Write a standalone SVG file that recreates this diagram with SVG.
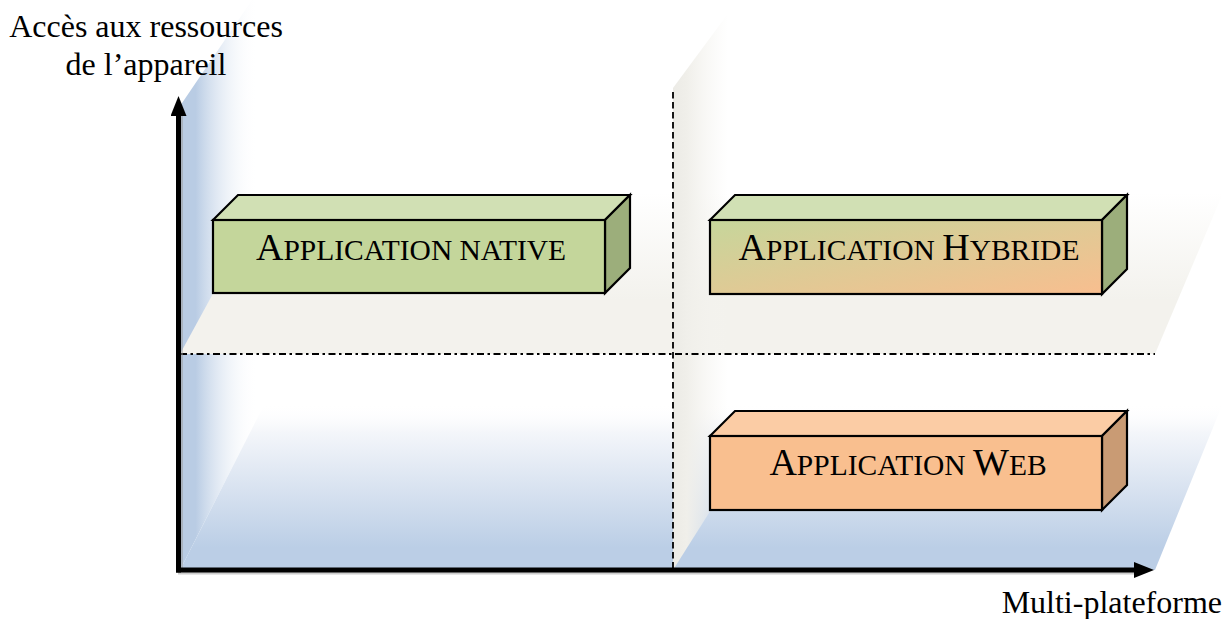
<svg xmlns="http://www.w3.org/2000/svg" width="1227" height="619" viewBox="0 0 1227 619">
<style>
  .lbl { font-family: "Liberation Serif", "Times New Roman", serif; fill: #000; }
  .big { font-size: 38px; }
  .sm { font-size: 29.5px; }
  .ax { font-size: 32px; }
  .box { stroke: #000; stroke-width: 2.2; stroke-linejoin: miter; }
  .axis { stroke: #000; stroke-width: 5; fill: none; }
  .axshadow { stroke: #9a9a9a; stroke-width: 5; fill: none; opacity: 0.5; }
  .guide { stroke: #000; stroke-width: 1.8; fill: none; }
</style>
<defs>
  <linearGradient id="gBlueWall" gradientUnits="userSpaceOnUse" x1="180" y1="0" x2="258" y2="0">
    <stop offset="0" stop-color="#b9cce4" stop-opacity="1"/>
    <stop offset="0.2" stop-color="#b9cce4" stop-opacity="1"/>
    <stop offset="1" stop-color="#ffffff" stop-opacity="0"/>
  </linearGradient>
  <linearGradient id="gBlueFloor" gradientUnits="userSpaceOnUse" x1="0" y1="403" x2="0" y2="548">
    <stop offset="0" stop-color="#ffffff" stop-opacity="0"/>
    <stop offset="0.2" stop-color="#f4f6fa" stop-opacity="1"/>
    <stop offset="1" stop-color="#bbcee6" stop-opacity="1"/>
  </linearGradient>
  <linearGradient id="gBeigeFloor" gradientUnits="userSpaceOnUse" x1="0" y1="193" x2="0" y2="300">
    <stop offset="0" stop-color="#f3f2ed" stop-opacity="0"/>
    <stop offset="1" stop-color="#f3f2ed" stop-opacity="1"/>
  </linearGradient>
  <linearGradient id="gBeigeWall" gradientUnits="userSpaceOnUse" x1="673" y1="0" x2="728" y2="0">
    <stop offset="0" stop-color="#ecebe6" stop-opacity="1"/>
    <stop offset="0.25" stop-color="#f0efea" stop-opacity="1"/>
    <stop offset="1" stop-color="#f5f4f0" stop-opacity="0"/>
  </linearGradient>
  <linearGradient id="gHybrid" x1="0" y1="0" x2="1" y2="1">
    <stop offset="0" stop-color="#c6d69b"/>
    <stop offset="1" stop-color="#f8be8f"/>
  </linearGradient>
  <marker id="arrow" markerUnits="userSpaceOnUse" viewBox="0 0 20 16" refX="1" refY="8" markerWidth="20" markerHeight="16" orient="auto">
    <path d="M0,0 L20,8 L0,16 z" fill="#000"/>
  </marker>
</defs>

<g id="background">
  <polygon points="180,570 180,106 252,0 272,0 272,392 265,403" fill="url(#gBlueWall)"/>
  <polygon points="180,354 268,193 1223,193 1155,354" fill="url(#gBeigeFloor)"/>
  <polygon points="180,570 265,403 1223,403 1155,570" fill="url(#gBlueFloor)"/>
  <polygon points="673,570 673,88 727,15 793,15 793,380" fill="url(#gBeigeWall)"/>
</g>

<g id="connectors">
  <line class="guide" x1="673" y1="92" x2="673" y2="570" stroke-dasharray="6.5,3.5"/>
  <line class="guide" x1="180" y1="354" x2="1155" y2="354" stroke-dasharray="7,3.5,2.5,3.5"/>
  <polyline class="axshadow" points="180.5,115 180.5,572 1137,572"/>
  <line class="axis" x1="178.5" y1="572.5" x2="178.5" y2="115" marker-end="url(#arrow)"/>
  <line class="axis" x1="176" y1="570" x2="1135" y2="570" marker-end="url(#arrow)"/>
</g>

<g id="label-y">
  <text class="lbl ax" x="146" y="37" text-anchor="middle">Accès aux ressources</text>
  <text class="lbl ax" x="146" y="75" text-anchor="middle">de l’appareil</text>
</g>
<g id="label-x">
  <text class="lbl ax" x="1222" y="613" text-anchor="end">Multi-plateforme</text>
</g>

<g id="node-native">
  <polygon class="box" points="213,220 238,195 630,195 605,220" fill="#d1e0b4"/>
  <polygon class="box" points="605,220 630,195 630,268 605,293" fill="#9cae7b"/>
  <rect class="box" x="213" y="220" width="392" height="73" fill="#c4d69b"/>
  <text class="lbl" x="411" y="260" text-anchor="middle"><tspan class="big">A</tspan><tspan class="sm">PPLICATION NATIVE</tspan></text>
</g>

<g id="node-hybride">
  <polygon class="box" points="710,220 735,195 1127,195 1102,220" fill="#d1e0b4"/>
  <polygon class="box" points="1102,220 1127,195 1127,269 1102,294" fill="#9cae7b"/>
  <rect class="box" x="710" y="220" width="392" height="74" fill="url(#gHybrid)"/>
  <text class="lbl" x="909" y="260" text-anchor="middle"><tspan class="big">A</tspan><tspan class="sm">PPLICATION </tspan><tspan class="big">H</tspan><tspan class="sm">YBRIDE</tspan></text>
</g>

<g id="node-web">
  <polygon class="box" points="710,436 735,411 1127,411 1102,436" fill="#fbcca5"/>
  <polygon class="box" points="1102,436 1127,411 1127,485 1102,510" fill="#c99b74"/>
  <rect class="box" x="710" y="436" width="392" height="74" fill="#f9bf8f"/>
  <text class="lbl" x="908" y="475" text-anchor="middle"><tspan class="big">A</tspan><tspan class="sm">PPLICATION </tspan><tspan class="big">W</tspan><tspan class="sm">EB</tspan></text>
</g>
</svg>
